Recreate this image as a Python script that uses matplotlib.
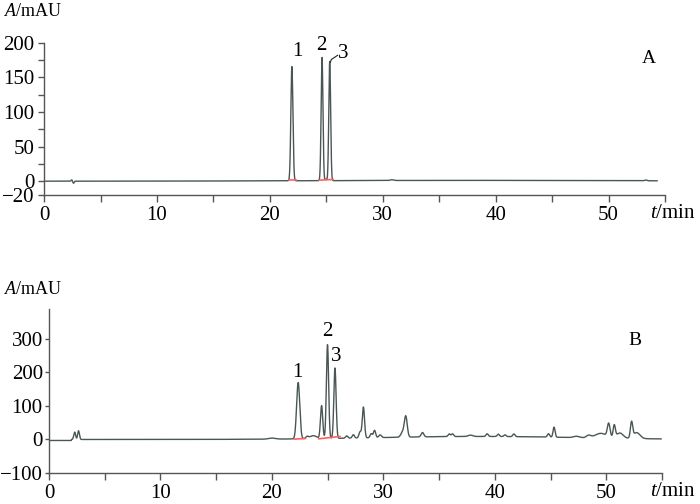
import numpy as np
import matplotlib
matplotlib.use("Agg")
import matplotlib.pyplot as plt

# ---------------- data ----------------
# Panel A: reference standards
a_times = [2.45, 2.6, 21.95, 24.62, 25.30, 24.95, 30.8, 53.3, 38.0]
a_heights = [2.0, -3.0, 165.0, 178.0, 172.0, 2.0, 1.0, 1.0, 1.2]
a_widths = [0.05, 0.06, 0.09, 0.08, 0.08, 0.06, 0.15, 0.1, 14.0]

# Panel B: sample
b_times = [2.30, 2.65, 20.0, 22.35, 23.15, 23.7, 24.45, 24.98, 25.65,
           26.7, 27.3, 27.9, 28.2, 28.9, 29.2, 29.7, 31.7, 32.0, 33.5,
           35.9, 36.2, 37.8, 39.3, 40.3, 40.9, 41.7, 44.8, 45.3, 47.3,
           48.4, 49.5, 50.2, 50.7, 51.2, 52.25, 52.7, 38.5]
b_heights = [22, 26, 3, 168, 6, 9, 98, 280, 210,
             7, 10, 18, 92, 12, 22, 8, 14, 62, 13,
             8, 8, 4, 8, 7, 5, 8, 10, 30, 4,
             7, 14, 40, 36, 16, 46, 18, 9]
b_widths = [0.08, 0.08, 0.3, 0.14, 0.12, 0.3, 0.1, 0.1, 0.1,
            0.1, 0.1, 0.1, 0.1, 0.1, 0.1, 0.12, 0.15, 0.13, 0.12,
            0.1, 0.1, 0.2, 0.1, 0.1, 0.1, 0.1, 0.1, 0.09, 0.25,
            0.2, 0.5, 0.12, 0.1, 0.3, 0.1, 0.3, 9.0]

# integration baselines (red) : (t_start, t_end, y_start, y_end)
a_red = [(21.7, 22.35, 1.5, 1.5), (24.35, 25.6, 1.5, 2.5)]
b_red = [(22.0, 23.0, 1.0, 3.0), (24.2, 26.1, 2.0, 9.0)]

a_end, b_end = 54.3, 54.9

# ---------------- helpers ----------------
def trace(times, heights, widths, t):
    y = np.zeros_like(t)
    for c, h, w in zip(times, heights, widths):
        y += h * np.exp(-0.5 * ((t - c) / w) ** 2)
    return y

LINE = "#4a5656"
SPINE = "#555555"

plt.rcParams["font.family"] = ["Liberation Serif", "DejaVu Serif"]
plt.rcParams["mathtext.fontset"] = "custom"
plt.rcParams["mathtext.rm"] = "Liberation Serif"
plt.rcParams["mathtext.it"] = "Liberation Serif:italic"

fig = plt.figure(figsize=(7.0, 5.04), dpi=100)

axA = fig.add_axes([0.063, 0.613, 0.887, 0.302])
axB = fig.add_axes([0.070, 0.0615, 0.876, 0.326])

tA = np.linspace(0.0, a_end, 6000)
tB = np.linspace(0.0, b_end, 6000)
yA = trace(a_times, a_heights, a_widths, tA)
yB = trace(b_times, b_heights, b_widths, tB)
yB = np.where(tB < 2.0, yB - 3.0, yB)

axA.plot(tA, yA, color=LINE, lw=1.0)
axB.plot(tB, yB, color=LINE, lw=1.0)
for (t0, t1, y0, y1) in a_red:
    axA.plot([t0, t1], [y0, y1], color="#ff6060", lw=1.2)
for (t0, t1, y0, y1) in b_red:
    axB.plot([t0, t1], [y0, y1], color="#ff6060", lw=1.2)

for ax in (axA, axB):
    for s in ("top", "right"):
        ax.spines[s].set_visible(False)
    for s in ("left", "bottom"):
        ax.spines[s].set_color(SPINE)
        ax.spines[s].set_linewidth(1.0)
    ax.set_xlim(0, 55)
    ax.set_xticks([0, 10, 20, 30, 40, 50])
    ax.set_xticks(np.arange(0, 56, 5), minor=True)
    ax.tick_params(axis="both", which="both", direction="out", color=SPINE,
                   labelsize=15, width=1.0)
    ax.tick_params(axis="x", which="both", length=5, pad=3)
    ax.tick_params(axis="y", which="both", length=4, pad=3)

axA.set_ylim(-20, 200)
axA.set_yticks([-20, 0, 50, 100, 150, 200])
axA.set_yticks([25, 75, 125, 175], minor=True)
axA.set_yticklabels(["\u221220", "0", "50", "100", "150", "200"])

axB.set_ylim(-100, 390)
axB.set_yticks([-100, 0, 100, 200, 300])
axB.set_yticklabels(["\u2212100", "0", "100", "200", "300"])
axB.tick_params(axis="y", which="both", length=3, pad=1.5)

# axis titles
fig.text(0.005, 0.978, r"$A$/mAU", fontsize=13, va="center", ha="left")
fig.text(0.005, 0.425, r"$A$/mAU", fontsize=13, va="center", ha="left")
fig.text(0.928, 0.577, r"$t$/min", fontsize=15, va="center", ha="left")
fig.text(0.928, 0.024, r"$t$/min", fontsize=15, va="center", ha="left")

# panel labels
axA.text(53.6, 178, "A", fontsize=14, ha="center", va="center")
axB.text(52.6, 295, "B", fontsize=14, ha="center", va="center")

# peak numbers
axA.text(22.4, 188, "1", fontsize=15, ha="center", va="center")
axA.text(24.6, 196, "2", fontsize=15, ha="center", va="center")
axA.text(26.5, 184, "3", fontsize=15, ha="center", va="center")
axA.plot([25.35, 25.45, 26.0], [172, 176, 182], color="#222222", lw=0.8)

axB.text(22.3, 199, "1", fontsize=15, ha="center", va="center")
axB.text(24.95, 322, "2", fontsize=15, ha="center", va="center")
axB.text(25.75, 248, "3", fontsize=15, ha="center", va="center")

fig.savefig("out.png", dpi=100)
